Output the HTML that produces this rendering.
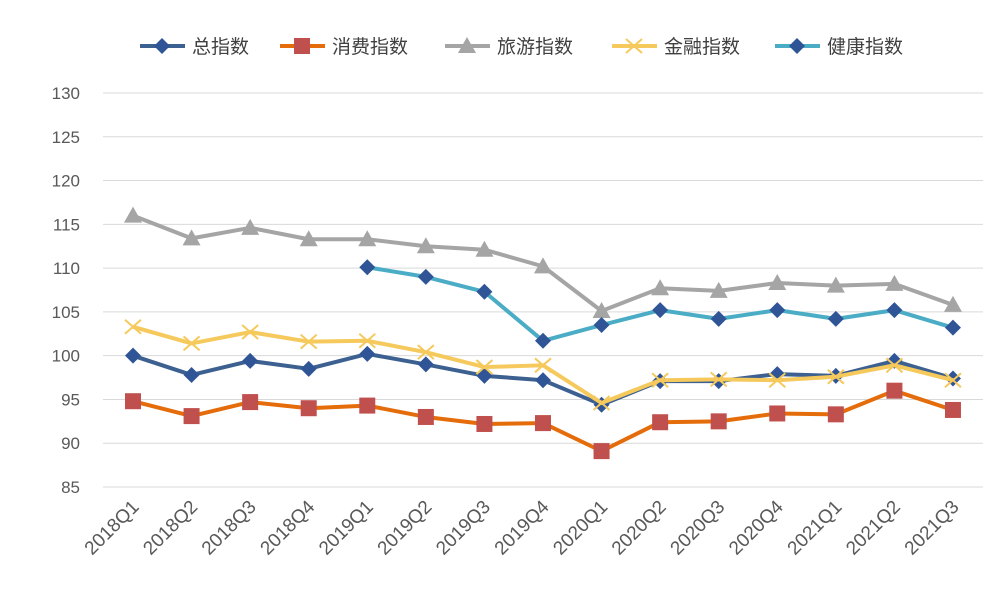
<!DOCTYPE html>
<html><head><meta charset="utf-8"><style>
html,body{margin:0;padding:0;background:#fff;}
svg{display:block;font-family:"Liberation Sans","Noto Sans CJK SC",sans-serif;}
</style></head><body>
<svg id="c" width="1002" height="589" viewBox="0 0 1002 589" xmlns="http://www.w3.org/2000/svg"></svg>
<script>
const s=document.getElementById('c');const NS='http://www.w3.org/2000/svg';
function el(t,a,txt){const e=document.createElementNS(NS,t);for(const k in a)e.setAttribute(k,a[k]);if(txt!=null)e.textContent=txt;s.appendChild(e);return e;}
const X=i=>133+i*58.57, Y=v=>93+(130-v)*8.756;
for(let v=85;v<=130;v+=5){el('line',{x1:103,x2:983,y1:Y(v),y2:Y(v),stroke:'#d9d9d9','stroke-width':1});
el('text',{x:80,y:Y(v)+6,'text-anchor':'end','font-size':17,fill:'#595959'},v);}
const labs=['2018Q1','2018Q2','2018Q3','2018Q4','2019Q1','2019Q2','2019Q3','2019Q4','2020Q1','2020Q2','2020Q3','2020Q4','2021Q1','2021Q2','2021Q3'];
labs.forEach((l,i)=>el('text',{x:X(i)+7,y:508,'text-anchor':'end','font-size':19,fill:'#595959',transform:`rotate(-45 ${X(i)+7} 508)`},l));
const S=[
{n:'总指数',c:'#3c6090',m:'d',mc:'#2f5597',d:[100,97.8,99.4,98.5,100.2,99.0,97.7,97.2,94.4,97.1,97.1,97.9,97.7,99.4,97.4]},
{n:'消费指数',c:'#e46c0a',m:'s',mc:'#c0504d',d:[94.8,93.1,94.7,94.0,94.3,93.0,92.2,92.3,89.1,92.4,92.5,93.4,93.3,96.0,93.8]},
{n:'旅游指数',c:'#a5a5a5',m:'t',mc:'#a5a5a5',d:[116,113.4,114.6,113.3,113.3,112.5,112.1,110.2,105.1,107.7,107.4,108.3,108.0,108.2,105.8]},
{n:'金融指数',c:'#f5c95c',m:'x',mc:'#f5c95c',d:[103.3,101.4,102.7,101.6,101.7,100.4,98.7,98.9,94.6,97.2,97.3,97.2,97.6,98.9,97.2]},
{n:'健康指数',c:'#4bacc6',m:'d',mc:'#2f5597',d:[null,null,null,null,110.1,109.0,107.3,101.7,103.5,105.2,104.2,105.2,104.2,105.2,103.2]}];
function mk(t,x,y,c){
 if(t==='d')el('polygon',{points:`${x},${y-8} ${x+8},${y} ${x},${y+8} ${x-8},${y}`,fill:c});
 else if(t==='s')el('rect',{x:x-8,y:y-8,width:16,height:16,fill:c});
 else if(t==='t')el('polygon',{points:`${x},${y-9} ${x+9},${y+7} ${x-9},${y+7}`,fill:c});
 else el('path',{d:`M${x-8} ${y-7}L${x+8} ${y+7}M${x-8} ${y+7}L${x+8} ${y-7}`,stroke:c,'stroke-width':2,fill:'none'});
}
S.forEach(o=>{const p=[];o.d.forEach((v,i)=>{if(v!=null)p.push(X(i)+','+Y(v));});
 el('polyline',{points:p.join(' '),fill:'none',stroke:o.c,'stroke-width':4,'stroke-linejoin':'round'});
 o.d.forEach((v,i)=>{if(v!=null)mk(o.m,X(i),Y(v),o.mc);});});
const lx=[140,280,445,612,775];
S.forEach((o,i)=>{const x=lx[i];el('line',{x1:x,x2:x+45,y1:46,y2:46,stroke:o.c,'stroke-width':4});mk(o.m,x+22,46,o.mc);
 el('text',{x:x+52,y:53,'font-size':19,fill:'#404040'},o.n);});
</script>
</body></html>
